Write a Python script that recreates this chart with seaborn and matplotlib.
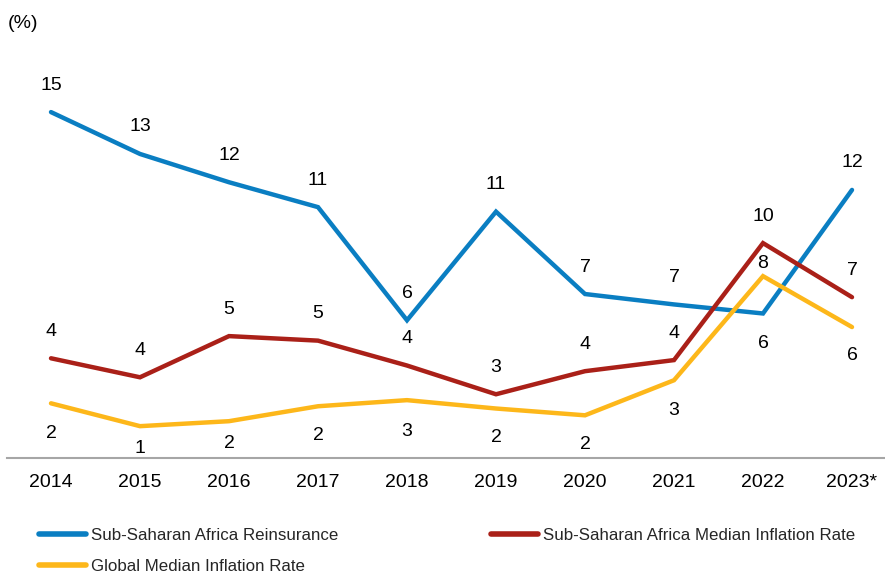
import matplotlib
matplotlib.use("Agg")
import matplotlib.pyplot as plt
from matplotlib.lines import Line2D
import seaborn as sns
import pandas as pd

years = ["2014", "2015", "2016", "2017", "2018", "2019", "2020", "2021", "2022", "2023*"]
reinsurance = [15.3, 13.45, 12.2, 11.1, 6.1, 10.9, 7.26, 6.8, 6.4, 11.86]
ssa_inflation = [4.42, 3.58, 5.4, 5.2, 4.1, 2.83, 3.85, 4.34, 9.51, 7.12]
global_inflation = [2.43, 1.42, 1.64, 2.3, 2.57, 2.2, 1.9, 3.45, 8.05, 5.8]

series_names = [
    "Sub-Saharan Africa Reinsurance",
    "Sub-Saharan Africa Median Inflation Rate",
    "Global Median Inflation Rate",
]
colors = ["#0A7EC2", "#AA2018", "#FDB71A"]

# vertical offset of each value label, in pixels (positive = above the point)
label_offsets = [
    [27, 27, 27, 27, 27, 27, 27, 27, -30, 27],
    [27, 27, 27, 27, 27, 27, 27, 27, 27, 27],
    [-30, -22, -22, -29, -31, -29, -29, -30, 13, -28],
]

sns.set_theme(style="white")
plt.rcParams["font.family"] = ["Liberation Sans", "DejaVu Sans"]

df = pd.DataFrame({
    "year": years * 3,
    "x": list(range(len(years))) * 3,
    "value": reinsurance + ssa_inflation + global_inflation,
    "series": [series_names[0]] * len(years)
              + [series_names[1]] * len(years)
              + [series_names[2]] * len(years),
})

W, H = 885, 572
fig = plt.figure(figsize=(W / 100, H / 100), dpi=100)
left = 6.5 / W
bottom = (H - 458.3) / H
top = (H - 51) / H
ax = fig.add_axes([left, bottom, 1 - left, top - bottom])

sns.lineplot(
    data=df, x="x", y="value", hue="series", hue_order=series_names,
    palette=colors, linewidth=3.2, ax=ax, legend=False, sort=False,
)
for line in ax.get_lines():
    line.set_solid_capstyle("round")
    line.set_solid_joinstyle("miter")

for vals, offs in zip([reinsurance, ssa_inflation, global_inflation], label_offsets):
    for i, (v, off) in enumerate(zip(vals, offs)):
        ax.annotate(f"{v:.0f}", (i, v), xytext=(0, off), textcoords="offset pixels",
                    ha="center", va="center", fontsize=14, color="#000000")

step_px = 89.0
ax.set_xlim(-0.5, -0.5 + (W - W * left) / step_px)
ax.set_ylim(0, 18)
ax.set_xticks(range(len(years)))
ax.set_xticklabels(years, fontsize=14, color="#000000")
ax.set_yticks([])
ax.set_xlabel("")
ax.set_ylabel("")
ax.tick_params(axis="x", length=0, pad=11)
for side in ["left", "right", "top"]:
    ax.spines[side].set_visible(False)
ax.spines["bottom"].set_color("#A6A6A6")
ax.spines["bottom"].set_linewidth(1.5)

fig.text(8 / W, 1 - 23 / H, "(%)", fontsize=14, ha="left", va="center", color="#000000")

# legend entries fill column-wise: blue and yellow in the first column, red in the second
order = [0, 2, 1]
handles = [Line2D([0], [0], color=colors[k], linewidth=4, solid_capstyle="round") for k in order]
labels = [series_names[k] for k in order]
fig.legend(
    handles, labels, ncol=2, loc="upper left",
    bbox_to_anchor=(34 / W, 1 - 523 / H), frameon=False, fontsize=12.2,
    handlelength=2.75, handletextpad=0.3, columnspacing=9.05, labelspacing=0.93,
    borderaxespad=0, borderpad=0.3,
)

fig.savefig("out.png", dpi=100)
